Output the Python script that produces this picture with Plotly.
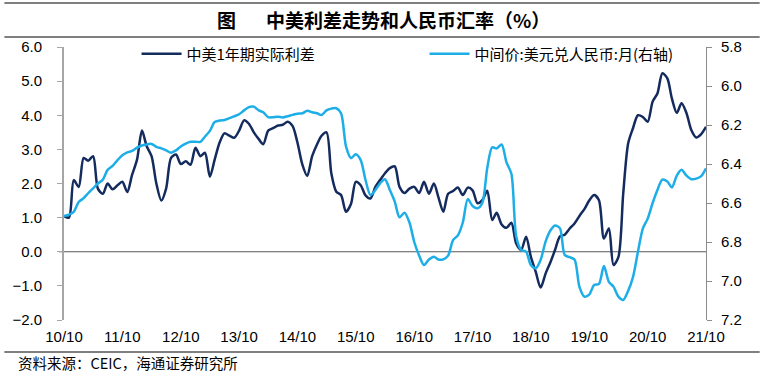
import pandas as pd
import plotly.graph_objects as go

# ---- data (monthly, 2010-10 .. 2021-10) ----
months = pd.date_range("2010-10-01", periods=133, freq="MS")

spread = [
    1.05, 1.00, 2.10, 1.90, 2.75, 2.67, 2.80, 1.85, 1.70, 2.00,
    1.83, 1.95, 2.05, 1.75, 2.25, 2.70, 3.55, 3.10, 2.80, 2.00,
    1.50, 1.85, 2.75, 2.85, 2.57, 2.65, 2.55, 3.05, 2.80, 2.90,
    2.20, 2.70, 3.20, 3.47, 3.40, 3.34, 3.55, 3.85, 3.75, 3.50,
    3.30, 3.15, 3.55, 3.62, 3.70, 3.72, 3.81, 3.68, 3.20, 2.55,
    2.22, 2.80, 3.15, 3.40, 3.50, 2.30, 1.76, 1.66, 1.17, 1.40,
    2.05, 1.95, 1.65, 1.56, 1.90, 2.10, 2.30, 2.45, 2.50, 1.90,
    1.72, 1.85, 1.90, 1.72, 2.05, 1.70, 2.00, 1.60, 1.17, 1.70,
    1.78, 1.88, 1.66, 1.88, 1.80, 1.42, 1.51, 1.79, 0.93, 1.14,
    0.80, 0.70, 0.85, 0.24, 0.05, 0.44, -0.15, -0.60, -1.05, -0.64,
    -0.30, 0.05, 0.45, 0.50, 0.68, 0.83, 1.05, 1.25, 1.50, 1.66,
    1.51, 0.39, 0.68, -0.39, -0.15, 1.71, 3.18, 3.62, 4.00, 3.95,
    3.81, 4.40, 4.64, 5.23, 5.08, 4.50, 4.07, 4.35, 4.06, 3.57,
    3.35, 3.45, 3.66,
]

usdcny = [
    6.667, 6.660, 6.645, 6.595, 6.575, 6.550, 6.525, 6.500, 6.480, 6.430,
    6.410, 6.380, 6.355, 6.340, 6.333, 6.316, 6.305, 6.300, 6.297, 6.312,
    6.320, 6.330, 6.342, 6.330, 6.310, 6.295, 6.286, 6.286, 6.286, 6.260,
    6.230, 6.185, 6.177, 6.174, 6.165, 6.155, 6.145, 6.125, 6.108, 6.106,
    6.125, 6.135, 6.160, 6.160, 6.158, 6.161, 6.155, 6.148, 6.142, 6.140,
    6.127, 6.135, 6.140, 6.149, 6.125, 6.116, 6.114, 6.140, 6.310, 6.370,
    6.350, 6.380, 6.482, 6.559, 6.533, 6.499, 6.478, 6.533, 6.593, 6.673,
    6.650, 6.700, 6.800, 6.870, 6.918, 6.890, 6.875, 6.890, 6.889, 6.870,
    6.790, 6.766, 6.700, 6.580, 6.615, 6.627, 6.600, 6.420, 6.314, 6.320,
    6.300, 6.390, 6.450, 6.770, 6.840, 6.850, 6.918, 6.935, 6.892, 6.798,
    6.740, 6.715, 6.730, 6.867, 6.878, 6.890, 7.030, 7.080, 7.070, 7.020,
    7.015, 6.923, 7.004, 7.029, 7.080, 7.097, 7.050, 6.980, 6.850, 6.730,
    6.680, 6.600, 6.533, 6.480, 6.490, 6.520, 6.460, 6.430, 6.460, 6.478,
    6.475, 6.462, 6.422,
]

tick_dates = [f"{y}-10-01" for y in range(2010, 2022)]
tick_labels = ["10/10", "11/10", "12/10", "13/10", "14/10", "15/10",
               "16/10", "17/10", "18/10", "19/10", "20/10", "21/10"]

name_spread = "中美1年期实际利差"
name_fx = "中间价:美元兑人民币:月(右轴)"
title_head = "图"
title_text = "中美利差走势和人民币汇率（%）"
source_text = "资料来源：CEIC，海通证券研究所"

DARK = "#142B5E"
LIGHT = "#1DAEE8"
TICKFONT = dict(family="Liberation Sans, Arial, sans-serif", size=15, color="#000000")
CJK = "Noto Sans CJK SC, sans-serif"

fig = go.Figure()
fig.add_trace(go.Scatter(
    x=months, y=spread, name=name_spread, mode="lines",
    line=dict(color=DARK, width=2.5, shape="spline", smoothing=0.8),
    yaxis="y",
))
fig.add_trace(go.Scatter(
    x=months, y=usdcny, name=name_fx, mode="lines",
    line=dict(color=LIGHT, width=2.5, shape="spline", smoothing=0.8),
    yaxis="y2",
))

L, R, T, B = 60, 59, 47, 58
W, H = 765, 378
pw, ph = W - L - R, H - T - B

def px_x(px):
    return (px - L) / pw

def px_y(py):
    return (H - B - py) / ph

fig.update_layout(
    width=W, height=H,
    margin=dict(l=L, r=R, t=T, b=B),
    paper_bgcolor="white", plot_bgcolor="white",
    showlegend=True,
    legend=dict(
        orientation="h", x=px_x(133), y=px_y(54), xanchor="left", yanchor="middle",
        font=dict(family=CJK, size=15, color="#000000"),
        bgcolor="rgba(0,0,0,0)", entrywidth=233, entrywidthmode="pixels",
        itemwidth=40, tracegroupgap=0,
    ),
    xaxis=dict(
        type="date", range=["2010-10-01", "2021-10-01"],
        tickmode="array", tickvals=tick_dates, ticktext=tick_labels,
        showgrid=False, showline=False, zeroline=False, ticks="",
        tickfont=TICKFONT, ticklabelstandoff=6,
    ),
    yaxis=dict(
        range=[-2, 6], dtick=1, tick0=0, tickformat=".1f",
        showgrid=False, zeroline=False, showline=True, linecolor="#A6A6A6", linewidth=2,
        ticks="outside", ticklen=5, tickcolor="#A6A6A6", tickwidth=1,
        tickfont=TICKFONT, ticklabelstandoff=12,
    ),
    yaxis2=dict(
        range=[7.2, 5.8], dtick=0.2, tick0=5.8, tickformat=".1f",
        overlaying="y", side="right", anchor="x",
        showgrid=False, zeroline=False, showline=True, linecolor="#8C8C8C", linewidth=1,
        ticks="outside", ticklen=5, tickcolor="#8C8C8C", tickwidth=1,
        tickfont=TICKFONT, ticklabelstandoff=6,
    ),
)

# zero reference line on the left axis
fig.add_shape(type="line", xref="paper", yref="y", x0=px_x(55), x1=1.0, y0=0, y1=0,
              line=dict(color="#595959", width=1.2), layer="below")

# header / footer rules
for py in (3, 37, 352):
    fig.add_shape(type="line", xref="paper", yref="paper",
                  x0=px_x(0), x1=px_x(760), y0=px_y(py), y1=px_y(py),
                  line=dict(color="#000000", width=1.2))

fig.add_annotation(text=f"<b>{title_head}</b>", xref="paper", yref="paper",
                   x=px_x(224), y=px_y(20), xanchor="center", yanchor="middle",
                   showarrow=False, font=dict(family=CJK, size=19, color="#000000"))
fig.add_annotation(text=f"<b>{title_text}</b>", xref="paper", yref="paper",
                   x=px_x(261), y=px_y(20), xanchor="left", yanchor="middle",
                   showarrow=False, font=dict(family=CJK, size=19, color="#000000"))
fig.add_annotation(text=source_text, xref="paper", yref="paper",
                   x=px_x(12), y=px_y(363), xanchor="left", yanchor="middle",
                   showarrow=False, font=dict(family=CJK, size=14.5, color="#000000"))

fig.write_html(
    "out.html",
    config={"displayModeBar": False},
    post_script="document.body.style.margin='0';document.body.style.overflow='hidden';",
)
